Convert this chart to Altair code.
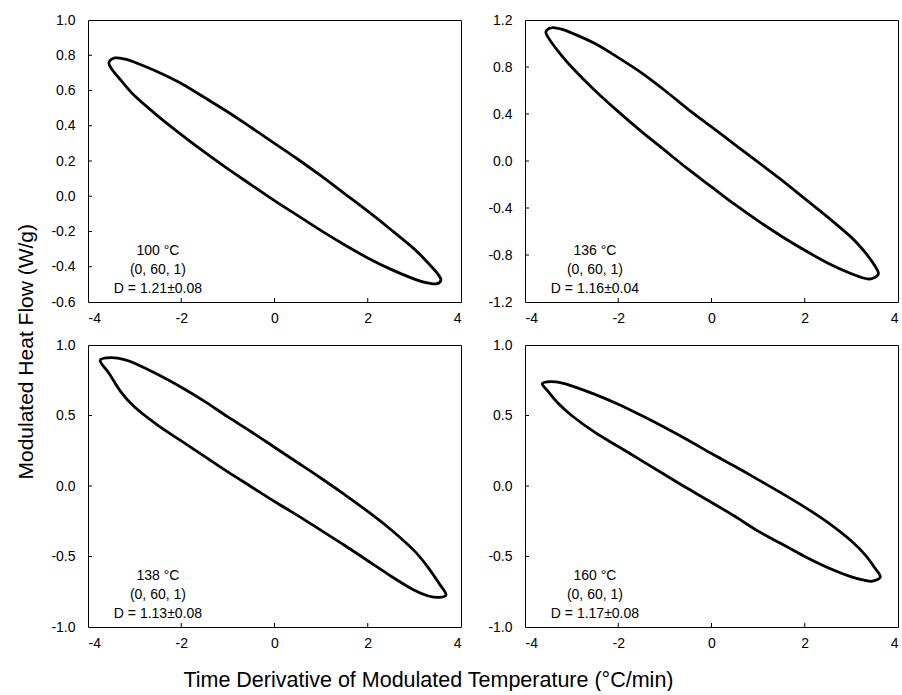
import altair as alt
import pandas as pd

FONT = "Liberation Sans"

# ---------------- data ----------------
temps = ["100 °C", "136 °C", "138 °C", "160 °C"]
conds = ["(0, 60, 1)", "(0, 60, 1)", "(0, 60, 1)", "(0, 60, 1)"]
dvals = ["D = 1.21±0.08", "D = 1.16±0.04", "D = 1.13±0.08", "D = 1.17±0.08"]

x_ticks = [-4, -2, 0, 2, 4]
y_ticks = [
    [-0.6, -0.4, -0.2, 0.0, 0.2, 0.4, 0.6, 0.8, 1.0],
    [-1.2, -0.8, -0.4, 0.0, 0.4, 0.8, 1.2],
    [-1.0, -0.5, 0.0, 0.5, 1.0],
    [-1.0, -0.5, 0.0, 0.5, 1.0],
]

# panel 1 (100 C)
p1_x = [-3.55, -3.42, -3.2, -3.0, -2.5, -2.0, -1.5, -1.0, -0.5, 0.0, 0.5, 1.0, 1.5, 2.0, 2.5, 3.0, 3.3, 3.5,
        3.57, 3.47, 3.25, 3.0, 2.5, 2.0, 1.5, 1.0, 0.5, 0.0, -0.5, -1.0, -1.5, -2.0, -2.5, -3.0, -3.3, -3.5]
p1_y = [0.76, 0.785, 0.778, 0.76, 0.705, 0.64, 0.56, 0.478, 0.39, 0.30, 0.21, 0.115, 0.015, -0.085, -0.19, -0.30, -0.38, -0.44,
        -0.475, -0.497, -0.49, -0.47, -0.415, -0.35, -0.275, -0.195, -0.11, -0.025, 0.065, 0.155, 0.25, 0.35, 0.455, 0.57, 0.66, 0.725]

# panel 2 (136 C)
p2_x = [-3.55, -3.42, -3.2, -3.0, -2.5, -2.0, -1.5, -1.0, -0.5, 0.0, 0.5, 1.0, 1.5, 2.0, 2.5, 3.0, 3.3, 3.5,
        3.58, 3.45, 3.3, 3.0, 2.5, 2.0, 1.5, 1.0, 0.5, 0.0, -0.5, -1.0, -1.5, -2.0, -2.5, -3.0, -3.3, -3.5]
p2_y = [1.10, 1.135, 1.12, 1.09, 1.0, 0.88, 0.75, 0.60, 0.44, 0.29, 0.14, -0.01, -0.16, -0.32, -0.48, -0.65, -0.78, -0.89,
        -0.96, -1.0, -1.0, -0.96, -0.87, -0.76, -0.64, -0.51, -0.37, -0.22, -0.07, 0.09, 0.25, 0.42, 0.60, 0.80, 0.94, 1.05]

# panel 3 (138 C)
p3_x = [-3.74, -3.5, -3.2, -3.0, -2.5, -2.0, -1.5, -1.0, -0.5, 0.0, 0.5, 1.0, 1.5, 2.0, 2.5, 3.0, 3.3, 3.55,
        3.68, 3.55, 3.3, 3.0, 2.5, 2.0, 1.5, 1.0, 0.5, 0.0, -0.5, -1.0, -1.5, -2.0, -2.5, -3.0, -3.3, -3.55]
p3_y = [0.89, 0.91, 0.895, 0.87, 0.79, 0.70, 0.60, 0.49, 0.385, 0.275, 0.165, 0.055, -0.06, -0.18, -0.31, -0.46, -0.58, -0.70,
        -0.77, -0.79, -0.78, -0.74, -0.64, -0.53, -0.42, -0.315, -0.21, -0.11, -0.005, 0.10, 0.21, 0.32, 0.43, 0.56, 0.67, 0.80]

# panel 4 (160 C)
p4_x = [-3.63, -3.45, -3.2, -3.0, -2.5, -2.0, -1.5, -1.0, -0.5, 0.0, 0.5, 1.0, 1.5, 2.0, 2.5, 3.0, 3.3, 3.5,
        3.62, 3.45, 3.3, 3.0, 2.5, 2.0, 1.5, 1.0, 0.5, 0.0, -0.5, -1.0, -1.5, -2.0, -2.5, -3.0, -3.3, -3.5]
p4_y = [0.725, 0.74, 0.73, 0.71, 0.65, 0.58, 0.50, 0.415, 0.325, 0.23, 0.14, 0.045, -0.05, -0.15, -0.26, -0.39, -0.49, -0.58,
        -0.645, -0.675, -0.67, -0.645, -0.58, -0.50, -0.41, -0.32, -0.215, -0.116, -0.02, 0.08, 0.18, 0.28, 0.38, 0.50, 0.59, 0.67]

label_x = -2.5

W, H = 373, 282


def fmt_expr(spec):
    return ("datum.value < 0 ? '-' + format(-datum.value, '%s') : format(datum.value, '%s')" % (spec, spec))


def panel(xs, ys, yt, lines):
    ydom = [yt[0], yt[-1]]
    xsc = alt.Scale(domain=[-4, 4], nice=False, zero=False)
    ysc = alt.Scale(domain=ydom, nice=False, zero=False)
    xax = alt.Axis(values=x_ticks, title=None, labelExpr=fmt_expr("d"), grid=False, ticks=False,
                   domain=False, labelPadding=9, labelFontSize=14, labelFont=FONT, labelColor="black")
    yax = alt.Axis(values=yt, title=None, labelExpr=fmt_expr(".1f"), grid=False, ticks=False,
                   domain=False, labelPadding=13, labelFontSize=14, labelFont=FONT, labelColor="black")

    df = pd.DataFrame({"x": xs, "y": ys, "i": list(range(len(xs)))})
    loop = alt.Chart(df).mark_line(interpolate="cardinal-closed", color="black", strokeWidth=2.8).encode(
        x=alt.X("x:Q", scale=xsc, axis=xax),
        y=alt.Y("y:Q", scale=ysc, axis=yax),
        order="i:Q",
    )
    xin = pd.DataFrame({"x": x_ticks[1:-1]})
    xt = alt.Chart(xin).mark_rule(color="black", strokeWidth=1).encode(
        x=alt.X("x:Q", scale=xsc, axis=xax), y=alt.value(H), y2=alt.value(H - 4))
    yin = pd.DataFrame({"y": yt[1:-1]})
    ytk = alt.Chart(yin).mark_rule(color="black", strokeWidth=1).encode(
        y=alt.Y("y:Q", scale=ysc, axis=yax), x=alt.value(0), x2=alt.value(4))
    tdf = pd.DataFrame({"x": [label_x], "y": [ydom[0]]})
    txt = alt.Chart(tdf).mark_text(text=lines, align="center", baseline="bottom", lineHeight=19, dy=-44,
                                   fontSize=14, font=FONT, color="black").encode(
        x=alt.X("x:Q", scale=xsc, axis=xax), y=alt.Y("y:Q", scale=ysc, axis=yax))
    return alt.layer(loop, xt, ytk, txt).properties(width=W, height=H)


series = [(p1_x, p1_y), (p2_x, p2_y), (p3_x, p3_y), (p4_x, p4_y)]
panels = [panel(sx, sy, y_ticks[k], [temps[k], conds[k], dvals[k]]) for k, (sx, sy) in enumerate(series)]

grid = alt.concat(*panels, columns=2, spacing={"row": 11, "column": 25}).properties(
    title=alt.TitleParams("Time Derivative of Modulated Temperature (°C/min)", orient="bottom",
                          anchor="middle", font=FONT, fontSize=21.5, fontWeight="normal", color="black",
                          offset=19, dx=-46)
)

chart = alt.vconcat(grid).properties(
    title=alt.TitleParams("Modulated Heat Flow (W/g)", orient="left", anchor="middle", font=FONT,
                          fontSize=21, fontWeight="normal", color="black", offset=13),
    padding={"left": 16, "top": 12, "right": 0, "bottom": 0},
    background="white",
).configure_view(stroke="black", strokeWidth=1)

chart.save("out.html", embed_options={"renderer": "svg", "actions": False})
